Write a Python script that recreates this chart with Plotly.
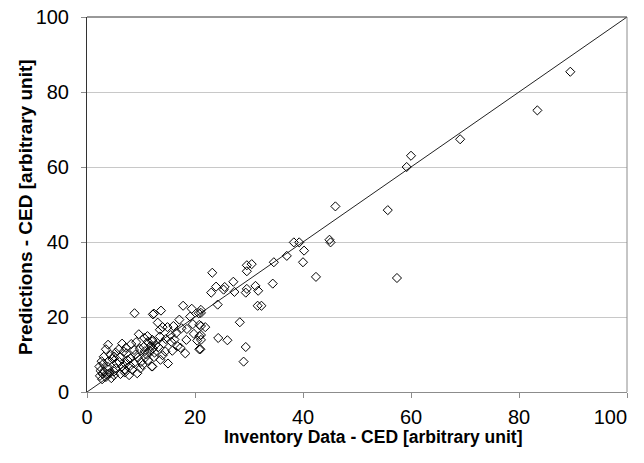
import plotly.graph_objects as go

# Inventory Data - CED (x) and Predictions - CED (y)
inventory = [89.5, 83.4, 69.1, 60.0, 59.2, 55.7, 57.4, 46.0, 44.9, 45.1, 42.4, 40.2, 40.0, 39.3, 38.3, 37.0, 34.6, 34.4, 31.6, 32.3,
             23.2, 29.6, 30.5, 29.6, 23.9, 25.5, 25.3, 23.0, 27.1, 27.3, 29.6, 29.4, 31.2, 31.7, 24.2, 28.3, 24.3, 26.0, 29.4, 29.0,
             21.1, 21.1, 21.1, 21.9, 21.1, 21.1, 21.0,
             17.8, 13.7, 12.4, 19.4, 20.7, 19.1, 17.1, 16.0, 14.9, 13.1, 13.5, 14.0, 19.6, 20.8, 17.5, 16.5, 14.6, 15.6, 18.4, 20.4,
             20.8, 20.8, 17.3, 18.2, 14.5, 14.0, 13.6, 15.0, 12.2, 12.4, 12.1, 12.7, 12.0,
             8.8, 12.2,
             9.6, 10.6, 11.2, 11.3, 12.1, 9.1, 8.2, 6.5, 7.2, 5.9, 7.3, 8.7, 10.5, 10.7, 11.6, 3.9, 3.5, 5.3, 4.4, 3.1, 4.7, 6.1,
             8.1, 9.4, 11.3, 12.1, 10.3, 8.7, 7.1, 5.5, 3.9, 2.7, 2.3, 3.8, 5.3, 6.9, 8.4, 9.9, 3.2, 2.5, 2.4, 2.9, 3.9, 5.0, 6.2,
             7.8, 9.3, 4.5, 2.8, 3.5,
             6.0, 7.5, 9.0, 10.0, 4.0, 5.0, 6.5, 8.0, 11.0, 9.8, 6.8, 5.0, 3.0, 4.2, 7.0, 10.8, 12.5, 11.8, 13.2, 14.2, 15.5, 16.2,
             13.5, 18.5, 19.8, 16.8, 15.8]
predicted = [85.4, 75.1, 67.4, 63.0, 60.0, 48.5, 30.4, 49.5, 40.6, 39.9, 30.7, 37.7, 34.6, 39.9, 39.9, 36.3, 34.6, 28.9, 23.0, 23.0,
             31.8, 33.8, 34.1, 32.2, 28.1, 28.0, 27.3, 26.5, 29.4, 26.7, 27.5, 26.5, 28.3, 27.0, 23.3, 18.6, 14.4, 13.8, 12.0, 8.1,
             21.9, 21.1, 17.6, 17.3, 15.2, 13.9, 11.4,
             23.0, 21.7, 20.9, 22.2, 21.0, 20.1, 19.3, 17.6, 17.3, 18.5, 16.6, 17.3, 18.1, 17.9, 17.0, 15.7, 14.1, 13.4, 13.9, 13.7,
             14.9, 11.4, 11.8, 10.3, 10.8, 9.8, 8.6, 7.6, 11.6, 9.3, 13.9, 12.6, 6.8,
             21.0, 20.7,
             15.4, 14.4, 14.9, 13.4, 13.5, 13.3, 12.8, 12.9, 11.8, 11.4, 10.3, 11.2, 12.0, 10.9, 11.0, 12.6, 11.4, 10.5, 9.9, 9.4, 8.8, 9.3,
             9.0, 9.2, 8.5, 6.8, 7.2, 7.7, 7.5, 7.7, 8.1, 8.2, 6.8, 6.8, 6.3, 5.9, 5.9, 6.3, 5.4, 5.7, 4.3, 4.8, 4.8, 4.5, 4.8,
             4.5, 5.0, 3.7, 3.4, 4.0,
             8.0, 8.5, 10.0, 8.0, 6.0, 5.5, 6.8, 7.0, 10.0, 11.5, 10.8, 9.5, 7.5, 5.0, 5.2, 9.2, 10.5, 12.3, 12.0, 13.0, 15.2, 14.0,
             14.8, 16.8, 15.5, 12.2, 11.0]

line_x = [0, 100]
line_y = [0, 100]

x_ticks = [0, 20, 40, 60, 80, 100]
x_tick_labels = ["0", "20", "40", "60", "80", "100"]
y_ticks = [0, 20, 40, 60, 80, 100]

x_title = "Inventory Data - CED [arbitrary unit]"
y_title = "Predictions - CED [arbitrary unit]"

# last x label is pulled inward (as in the reference) by padding it with trailing no-break spaces
x_tick_text = x_tick_labels[:-1] + [x_tick_labels[-1] + "\u00a0" * 6]

fig = go.Figure()
fig.add_trace(go.Scatter(x=line_x, y=line_y, mode="lines",
                         line=dict(color="#222222", width=1), hoverinfo="skip", showlegend=False))
fig.add_trace(go.Scatter(x=inventory, y=predicted, mode="markers",
                         marker=dict(symbol="diamond-open", size=7, color="#000000", line=dict(width=1)),
                         showlegend=False))

# page body has an 8px offset; margins compensate so the plot area spans 87..627 x 17..392
fig.update_layout(
    width=644, height=463,
    margin=dict(l=79, r=25, t=9, b=79),
    paper_bgcolor="white", plot_bgcolor="white",
    font=dict(family="Liberation Sans Narrow, Liberation Sans, Arial", size=20, color="#000000"),
    xaxis=dict(range=[0, 100], tickvals=x_ticks, ticktext=x_tick_text, showgrid=False, zeroline=False,
               automargin=False, showline=True, linecolor="#8c8c8c", linewidth=1,
               ticks="outside", ticklen=5, tickcolor="#8c8c8c", ticklabeloverflow="allow",
               tickfont=dict(size=20), ticklabelstandoff=2),
    yaxis=dict(range=[0, 100], tickvals=y_ticks, showgrid=True, gridcolor="#c8c8c8", gridwidth=1,
               zeroline=False, showline=True, linecolor="#333333", linewidth=1, automargin=False,
               ticks="outside", ticklen=5, tickcolor="#8c8c8c", ticklabeloverflow="allow",
               tickfont=dict(size=20), ticklabelstandoff=8),
    shapes=[
        dict(type="line", xref="paper", yref="paper", x0=0, x1=1, y0=1, y1=1,
             line=dict(color="#333333", width=1)),
        dict(type="line", xref="paper", yref="paper", x0=1, x1=1, y0=0, y1=1,
             line=dict(color="#8c8c8c", width=1)),
    ],
    annotations=[
        dict(text="<b>" + x_title + "</b>", xref="paper", yref="paper",
             x=(373 - 87) / 540, y=-(437 - 392) / 375, xanchor="center", yanchor="middle",
             showarrow=False, font=dict(family="Liberation Sans, Arial", size=17.5, color="#000000")),
        dict(text="<b>" + y_title + "</b>", xref="paper", yref="paper",
             x=-(87 - 26) / 540, y=(392 - 207) / 375, xanchor="center", yanchor="middle",
             textangle=-90, showarrow=False,
             font=dict(family="Liberation Sans, Arial", size=19, color="#000000")),
    ],
)

fig.write_html("out.html")
